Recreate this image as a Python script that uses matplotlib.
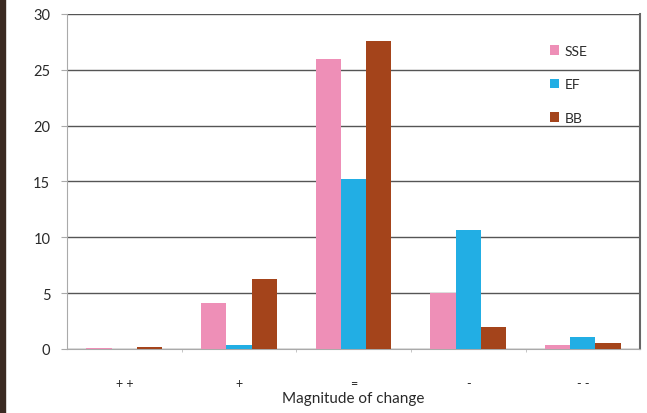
import matplotlib
matplotlib.use("Agg")
import matplotlib.pyplot as plt
import numpy as np
from matplotlib.patches import Rectangle

categories = ["+ +", "+", "=", "-", "- -"]
sse = [0.1, 4.1, 26.0, 5.0, 0.4]
ef = [0.0, 0.4, 15.2, 10.7, 1.1]
bb = [0.2, 6.3, 27.6, 2.0, 0.5]

plt.rcParams['font.family'] = ['Lato', 'DejaVu Sans']

fig = plt.figure(figsize=(6.47, 4.14), dpi=100)
ax = fig.add_axes([0.1035, 0.1546, 0.886, 0.8092])

x = np.arange(len(categories))
w = 0.22
ax.bar(x - w, sse, w, color="#ee8fb7", label="SSE", zorder=3)
ax.bar(x, ef, w, color="#22aee4", label="EF", zorder=3)
ax.bar(x + w, bb, w, color="#a4441b", label="BB", zorder=3)

ax.set_xlim(-0.5, len(categories) - 0.5)
ax.set_ylim(0, 30)
ax.set_yticks(range(0, 31, 5))
ax.yaxis.grid(True, color="#555555", linewidth=1.0, zorder=0)
ax.tick_params(axis="y", labelsize=10.5, length=4, color="#aaaaaa", pad=8, labelcolor="#2a2a2a")

ax.set_xticks(x)
ax.set_xticklabels(categories)
ax.tick_params(axis="x", length=0, pad=20, labelsize=9, labelcolor="#2a2a2a")
ax.set_xticks(np.arange(0.5, len(categories) - 0.5, 1), minor=True)
ax.tick_params(axis="x", which="minor", length=2, color="#bbbbbb")

ax.set_xlabel("Magnitude of change", fontsize=11, color="#2a2a2a")
ax.xaxis.set_label_coords(0.5, -0.125)
ax.xaxis.label.set_va("top")

for side in ["left", "bottom"]:
    ax.spines[side].set_color("#aaaaaa")
ax.spines["top"].set_visible(False)
ax.spines["right"].set_color("#666666")
ax.spines["right"].set_linewidth(1.5)

leg = ax.legend(loc="upper left", bbox_to_anchor=(0.82, 0.945), frameon=False,
                fontsize=10, labelspacing=1.55, handlelength=0.7, handleheight=0.7,
                handletextpad=0.4)
for t in leg.get_texts():
    t.set_color("#2a2a2a")

fig.patches.append(Rectangle((0, 0), 0.008, 1, transform=fig.transFigure,
                             color="#3b2a22", zorder=5))

fig.savefig("out.png", dpi=100)
